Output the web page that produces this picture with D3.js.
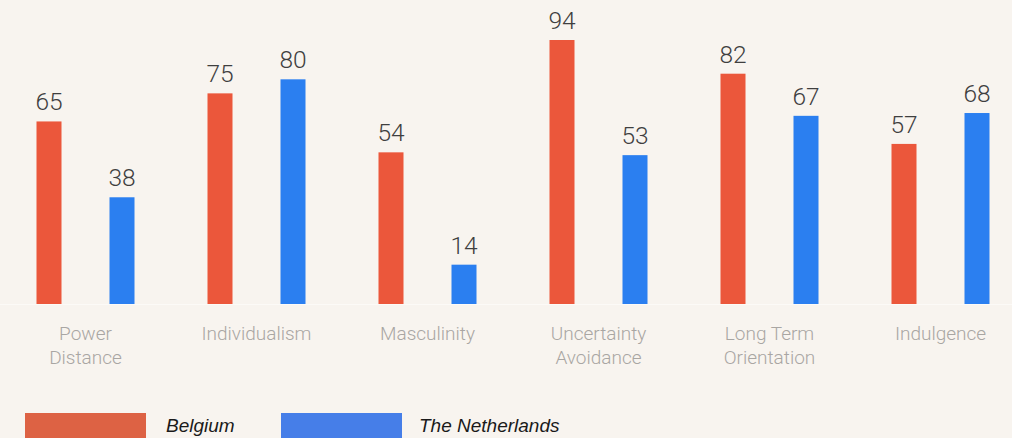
<!DOCTYPE html>
<html>
<head>
<meta charset="utf-8">
<script src="https://cdn.jsdelivr.net/npm/d3@7"></script>
<style>
html,body{margin:0;padding:0;background:#f8f4ef;}
svg{display:block;}
</style>
</head>
<body>
<svg id="chart" width="1012" height="438"></svg>
<script>
const categories = [["Power","Distance"],["Individualism"],["Masculinity"],["Uncertainty","Avoidance"],["Long Term","Orientation"],["Indulgence"]];
const seriesNames = ["Belgium","The Netherlands"];
const belgium = [65,75,54,94,82,57];
const netherlands = [38,80,14,53,67,68];
const barColors = ["#eb573b","#2b7ff0"];
const legendColors = ["#dd6244","#467ee8"];

const svg = d3.select("#chart");
const W = 1012, H = 438;
svg.append("rect").attr("width",W).attr("height",H).attr("fill","#f8f4ef");

const baseline = 304;
const x = d3.scaleBand().domain(d3.range(categories.length)).range([0, 1026]).paddingInner(0).paddingOuter(0);
const x1 = d3.scalePoint().domain([0,1]).range([-36.5, 36.5]);
const y = d3.scaleLinear().domain([0,94]).range([baseline, 40]);
const barW = 25;

svg.append("line").attr("x1",0).attr("x2",W).attr("y1",baseline+0.5).attr("y2",baseline+0.5)
  .attr("stroke","#fcfaf7").attr("stroke-width",1);

const series = [belgium, netherlands];
const groups = svg.selectAll("g.grp").data(categories).join("g")
  .attr("transform",(d,i)=>`translate(${x(i)+x.bandwidth()/2},0)`);

series.forEach((vals,s)=>{
  groups.append("rect")
    .attr("x",(d,i)=>x1(s)-barW/2)
    .attr("y",(d,i)=>y(vals[i]))
    .attr("width",barW)
    .attr("height",(d,i)=>baseline-y(vals[i]))
    .attr("fill",barColors[s]);
  groups.append("text")
    .attr("x",(d,i)=>x1(s))
    .attr("y",(d,i)=>y(vals[i])-11)
    .attr("text-anchor","middle")
    .attr("font-family","'Helvetica Neue', Roboto, Arial, sans-serif")
    .attr("font-weight",300)
    .attr("font-size",24.5)
    .attr("fill","#3f3f3f")
    .text((d,i)=>vals[i]);
});

groups.each(function(d){
  const t = d3.select(this).append("text")
    .attr("text-anchor","middle")
    .attr("font-family","'Helvetica Neue', Roboto, Arial, sans-serif")
    .attr("font-weight",300)
    .attr("font-size",19)
    .attr("fill","#a9a6a3");
  d.forEach((line,j)=>{
    t.append("tspan").attr("x",0).attr("y",340+j*23.5).text(line);
  });
});

// legend
const leg = svg.append("g");
const legX = [25, 281];
const legTextX = [166, 419];
seriesNames.forEach((n,i)=>{
  leg.append("rect").attr("x",legX[i]).attr("y",413).attr("width",121).attr("height",30).attr("fill",legendColors[i]);
  leg.append("text").attr("x",legTextX[i]).attr("y",432)
    .attr("font-family","'Liberation Sans', Arial, sans-serif")
    .attr("font-style","italic")
    .attr("font-size",19)
    .attr("fill","#1a1a1a")
    .text(n);
});
</script>
</body>
</html>
